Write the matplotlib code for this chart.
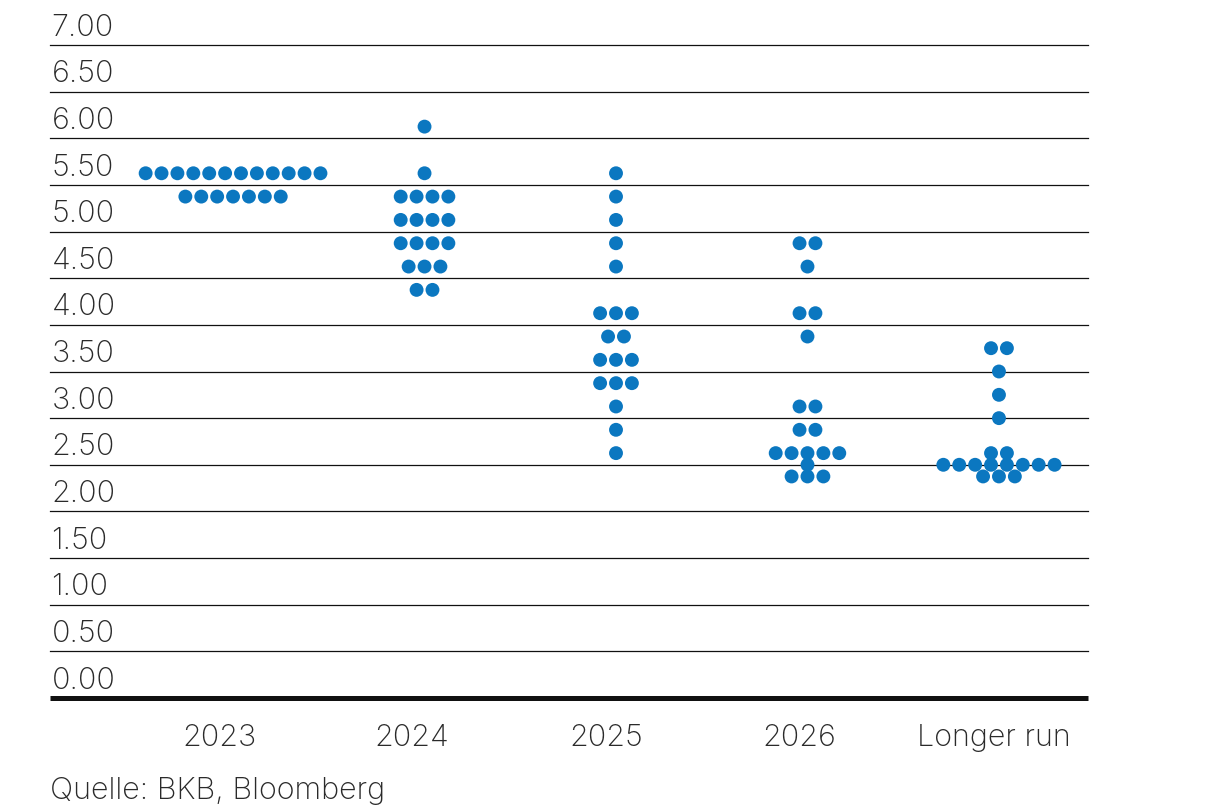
import numpy as np
import matplotlib.pyplot as plt

plt.rcParams['font.family'] = ['Inter', 'Liberation Sans', 'DejaVu Sans']
plt.rcParams['font.weight'] = 'light'

categories = ['2023', '2024', '2025', '2026', 'Longer run']

# rate level (midpoint of range) and number of dots per level
rates_2023 = [5.625, 5.375]
counts_2023 = [12, 7]
rates_2024 = [6.125, 5.625, 5.375, 5.125, 4.875, 4.625, 4.375]
counts_2024 = [1, 1, 4, 4, 4, 3, 2]
rates_2025 = [5.625, 5.375, 5.125, 4.875, 4.625, 4.125, 3.875, 3.625, 3.375, 3.125, 2.875, 2.625]
counts_2025 = [1, 1, 1, 1, 1, 3, 2, 3, 3, 1, 1, 1]
rates_2026 = [4.875, 4.625, 4.125, 3.875, 3.125, 2.875, 2.625, 2.5, 2.375]
counts_2026 = [2, 1, 2, 1, 2, 2, 5, 1, 3]
rates_lr = [3.75, 3.5, 3.25, 3.0, 2.625, 2.5, 2.375]
counts_lr = [2, 1, 1, 1, 2, 8, 3]

all_rates = [rates_2023, rates_2024, rates_2025, rates_2026, rates_lr]
all_counts = [counts_2023, counts_2024, counts_2025, counts_2026, counts_lr]

yticks = np.arange(0, 7.01, 0.5)

dot_color = '#0b77c0'
dot_gap = 0.083

fig = plt.figure(figsize=(12.25, 8.12), dpi=100)
ax = fig.add_axes([50/1225, 1 - 699/812, 1038/1225, (699-46)/812])

for i, (rates, counts) in enumerate(zip(all_rates, all_counts)):
    for r, n in zip(rates, counts):
        offs = (np.arange(n) - (n - 1) / 2) * dot_gap
        ax.scatter(i + offs, [r] * n, s=100, color=dot_color, zorder=3,
                   edgecolors='none', clip_on=False)

for v in yticks[1:]:
    ax.axhline(v, color='#111111', lw=0.9, zorder=1, clip_on=False)
ax.axhline(0, color='#111111', lw=3.6, zorder=2, clip_on=False,
           solid_capstyle='butt')

for v in yticks:
    ax.annotate('%.2f' % v, xy=(0, v), xycoords=('axes fraction', 'data'),
                xytext=(1, 7.5), textcoords='offset points',
                fontsize=22, color='#2a2a2a', va='baseline', ha='left')

label_shift = [-10, -9, -7, -6, -4]
for i, c in enumerate(categories):
    ax.annotate(c, xy=(i, 0), xycoords='data',
                xytext=(label_shift[i], -33.8), textcoords='offset points',
                fontsize=22, color='#2a2a2a', va='baseline', ha='center')

ax.set_xlim(-0.956, 4.465)
ax.set_ylim(0, 7)
ax.axis('off')

fig.text(50/1225, 13/812, 'Quelle: BKB, Bloomberg', fontsize=22,
         color='#2a2a2a', va='baseline', ha='left')

fig.savefig('out.png', dpi=100)
